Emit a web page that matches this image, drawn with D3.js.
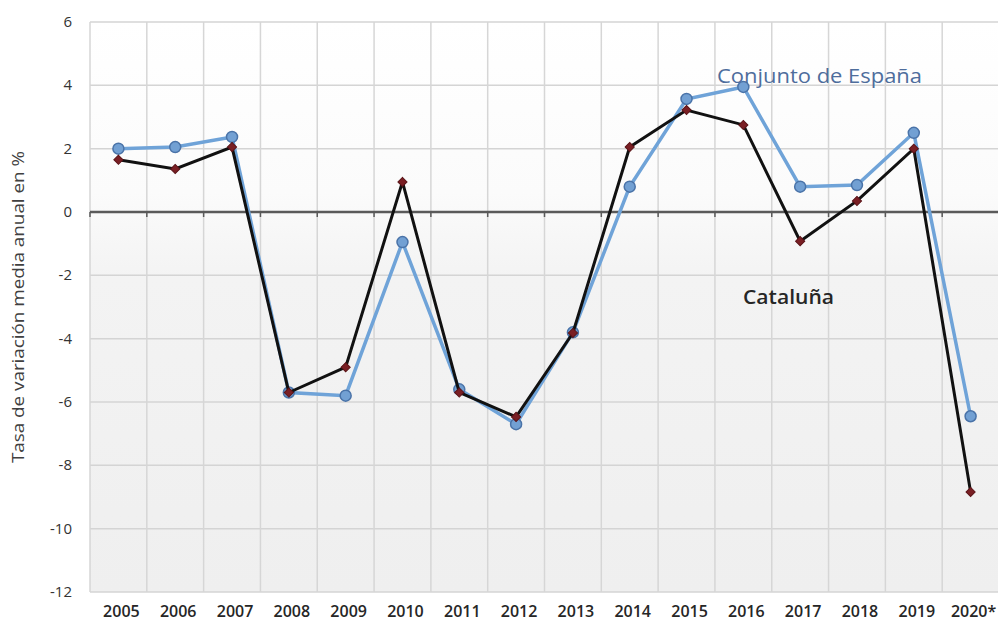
<!DOCTYPE html>
<html>
<head>
<meta charset="utf-8">
<script src="https://cdn.jsdelivr.net/npm/d3@7"></script>
<style>
  body { margin: 0; background: #fff; }
  svg { display: block; }
  text { font-family: "Open Sans", "Noto Sans", sans-serif; }
</style>
</head>
<body>
<svg id="chart" width="998" height="624"></svg>
<script>
// years on the x axis
const years = ["2005","2006","2007","2008","2009","2010","2011","2012","2013","2014","2015","2016","2017","2018","2019","2020*"]
// Conjunto de España
const espana = [2.0, 2.05, 2.37, -5.7, -5.8, -0.95, -5.6, -6.7, -3.8, 0.8, 3.57, 3.95, 0.8, 0.85, 2.5, -6.45]
// Cataluña
const cataluna = [1.65, 1.36, 2.05, -5.7, -4.9, 0.95, -5.7, -6.47, -3.82, 2.05, 3.22, 2.75, -0.92, 0.35, 2.0, -8.84]
const yTicks = [6, 4, 2, 0, -2, -4, -6, -8, -10, -12]

const svg = d3.select("#chart")
const pLeft = 90, pRight = 999, pTop = 22, pBottom = 592

const x = d3.scaleBand().domain(years).range([pLeft, pRight])
const y = d3.scaleLinear().domain([-12, 6]).range([pBottom, pTop])

// background gradient
const defs = svg.append("defs")
const grad = defs.append("linearGradient")
    .attr("id", "bg").attr("x1", 0).attr("y1", 0).attr("x2", 0).attr("y2", 1)
grad.append("stop").attr("offset", "0%").attr("stop-color", "#ffffff")
grad.append("stop").attr("offset", "30%").attr("stop-color", "#fbfbfb")
grad.append("stop").attr("offset", "45%").attr("stop-color", "#f3f3f3")
grad.append("stop").attr("offset", "100%").attr("stop-color", "#efefef")

svg.append("rect")
    .attr("x", pLeft).attr("y", pTop)
    .attr("width", pRight - pLeft).attr("height", pBottom - pTop)
    .attr("fill", "url(#bg)")

// horizontal grid
svg.append("g").selectAll("line")
    .data(yTicks.filter(d => d !== 0))
    .enter().append("line")
    .attr("x1", pLeft).attr("x2", pRight)
    .attr("y1", d => y(d)).attr("y2", d => y(d))
    .attr("stroke", "#d4d4d4").attr("stroke-width", 1.5)

// vertical grid at category boundaries
const bounds = years.map(d => x(d)).concat([pRight])
svg.append("g").selectAll("line")
    .data(bounds)
    .enter().append("line")
    .attr("x1", d => d).attr("x2", d => d)
    .attr("y1", pTop).attr("y2", pBottom)
    .attr("stroke", "#d6d6d6").attr("stroke-width", 1.5)

// zero axis with ticks
svg.append("line")
    .attr("x1", pLeft).attr("x2", pRight)
    .attr("y1", y(0)).attr("y2", y(0))
    .attr("stroke", "#5a5a5a").attr("stroke-width", 2.5)
svg.append("g").selectAll("line")
    .data(bounds)
    .enter().append("line")
    .attr("x1", d => d).attr("x2", d => d)
    .attr("y1", y(0)).attr("y2", y(0) + 5)
    .attr("stroke", "#5a5a5a").attr("stroke-width", 1.5)

// y tick labels
svg.append("g").selectAll("text")
    .data(yTicks)
    .enter().append("text")
    .attr("x", 72).attr("y", d => y(d) + 5)
    .attr("text-anchor", "end")
    .attr("font-size", 15)
    .attr("fill", "#333")
    .text(d => d)

// x labels
svg.append("g").selectAll("text")
    .data(years)
    .enter().append("text")
    .attr("x", d => x(d) + x.bandwidth() / 2 + 3)
    .attr("y", 617)
    .attr("text-anchor", "middle")
    .attr("font-size", 16).attr("font-weight", 600)
    .attr("fill", "#262626")
    .text(d => d)

// y axis title
svg.append("text")
    .attr("transform", "translate(24,307) rotate(-90)")
    .attr("text-anchor", "middle")
    .attr("font-size", 16)
    .attr("textLength", 312).attr("lengthAdjust", "spacingAndGlyphs")
    .attr("fill", "#404040")
    .text("Tasa de variación media  anual en %")

const cx = (d, i) => x(years[i]) + x.bandwidth() / 2
const line = d3.line().x((d, i) => cx(d, i)).y(d => y(d))

// España
svg.append("path")
    .attr("d", line(espana))
    .attr("fill", "none").attr("stroke", "#6fa3d8").attr("stroke-width", 3.5)
svg.append("g").selectAll("circle")
    .data(espana)
    .enter().append("circle")
    .attr("cx", cx).attr("cy", d => y(d)).attr("r", 5.5)
    .attr("fill", "#72a0d3").attr("stroke", "#4a73a8").attr("stroke-width", 1.5)

// Cataluña
svg.append("path")
    .attr("d", line(cataluna))
    .attr("fill", "none").attr("stroke", "#111111").attr("stroke-width", 3)
svg.append("g").selectAll("path.m")
    .data(cataluna)
    .enter().append("path")
    .attr("d", d3.symbol().type(d3.symbolSquare).size(42))
    .attr("transform", (d, i) => "translate(" + cx(d, i) + "," + y(d) + ") rotate(45)")
    .attr("fill", "#7a1f24").attr("stroke", "#5a1418").attr("stroke-width", 1)

// series labels
svg.append("text")
    .attr("x", 717).attr("y", 83)
    .attr("font-size", 20)
    .attr("textLength", 205).attr("lengthAdjust", "spacingAndGlyphs")
    .attr("fill", "#4e6d9c")
    .text("Conjunto de España")
svg.append("text")
    .attr("x", 743).attr("y", 304)
    .attr("font-size", 19).attr("font-weight", 600)
    .attr("textLength", 91).attr("lengthAdjust", "spacingAndGlyphs")
    .attr("fill", "#262626")
    .text("Cataluña")
</script>
</body>
</html>
